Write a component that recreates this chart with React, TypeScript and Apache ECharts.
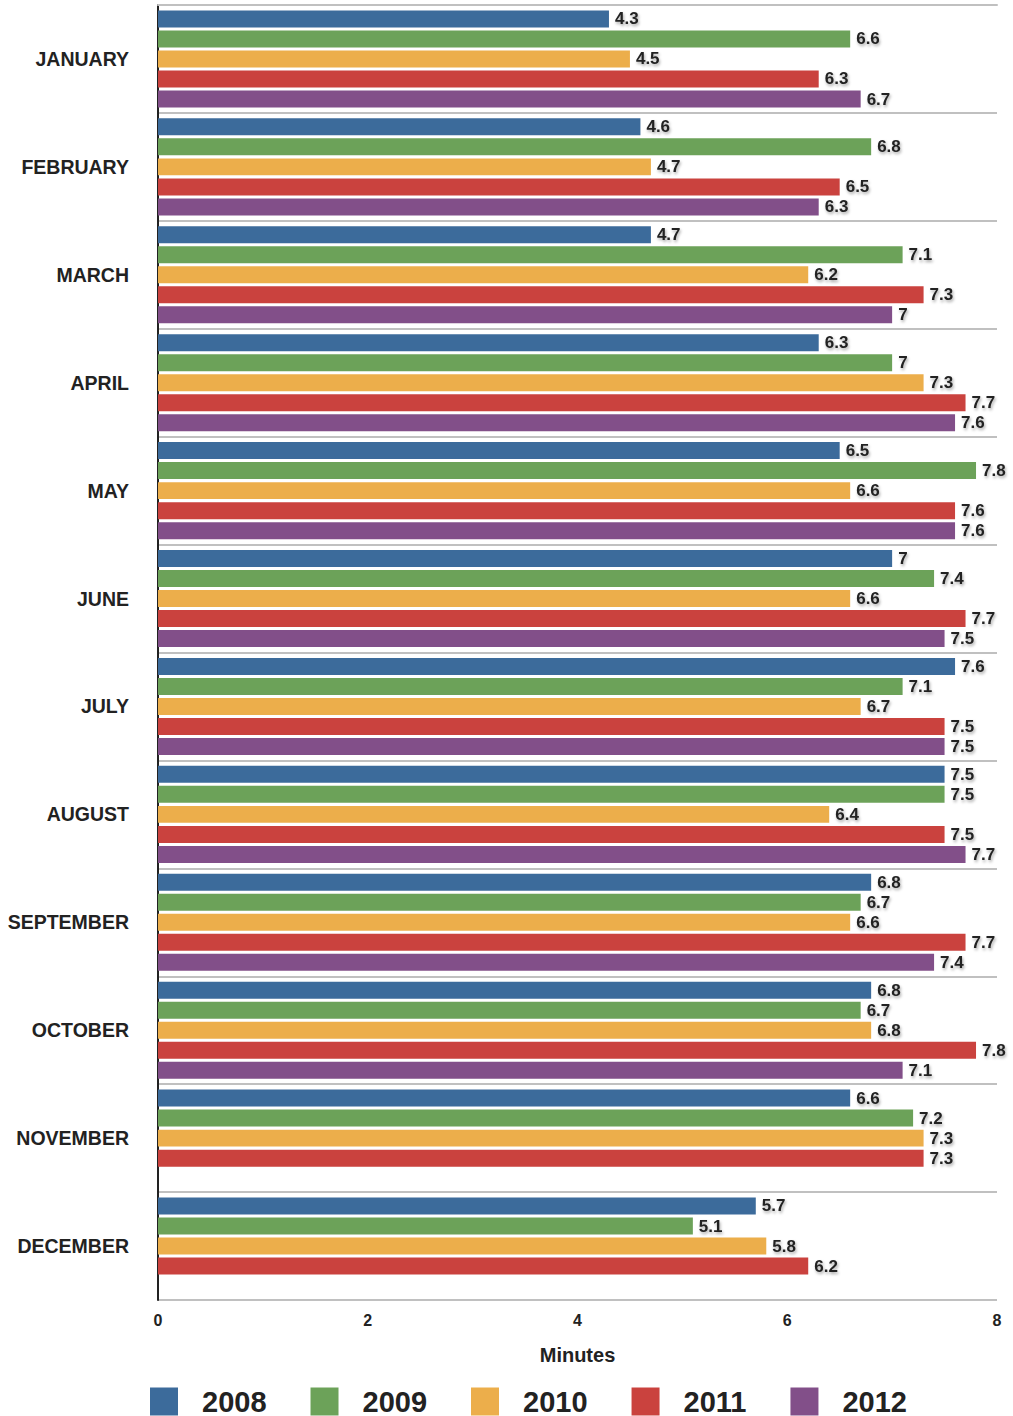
import React, { useEffect, useRef } from "react";
import * as echarts from "echarts";

const months = ["JANUARY","FEBRUARY","MARCH","APRIL","MAY","JUNE","JULY","AUGUST","SEPTEMBER","OCTOBER","NOVEMBER","DECEMBER"];
const years = ["2008","2009","2010","2011","2012"];
const s2008 = [4.3,4.6,4.7,6.3,6.5,7,7.6,7.5,6.8,6.8,6.6,5.7];
const s2009 = [6.6,6.8,7.1,7,7.8,7.4,7.1,7.5,6.7,6.7,7.2,5.1];
const s2010 = [4.5,4.7,6.2,7.3,6.6,6.6,6.7,6.4,6.6,6.8,7.3,5.8];
const s2011 = [6.3,6.5,7.3,7.7,7.6,7.7,7.5,7.5,7.7,7.8,7.3,6.2];
const s2012 = [6.7,6.3,7,7.6,7.6,7.5,7.5,7.7,7.4,7.1,null,null];
const xTicks = [0,2,4,6,8];
const colors = ["#3c6b9b","#6ca259","#ecae4b","#ca423e","#824f89"];

const FONT = "'Liberation Sans', Arial, sans-serif";

export default function App() {
  const ref = useRef<HTMLDivElement>(null);
  useEffect(() => {
    if (!ref.current) return;
    const chart = echarts.init(ref.current, undefined, { renderer: "svg" });
    const seriesData = [s2008, s2009, s2010, s2011, s2012];
    const xMin = xTicks[0];
    const xMax = xTicks[xTicks.length - 1];
    chart.setOption({
      animation: false,
      color: colors,
      grid: { left: 158, right: 16, top: 5, bottom: 116, containLabel: false },
      legend: {
        data: years,
        left: 150,
        top: 1387,
        padding: 0,
        itemWidth: 28,
        itemHeight: 28,
        itemGap: 44,
        icon: "rect",
        textStyle: {
          fontFamily: FONT,
          fontWeight: "bold",
          fontSize: 29,
          lineHeight: 28,
          color: "#222",
          padding: [0, 0, 0, 19],
        },
      },
      xAxis: [
        {
          type: "value",
          min: xMin,
          max: xMax,
          interval: 2,
          axisLine: { show: false },
          axisTick: { show: false },
          splitLine: { show: false },
          axisLabel: {
            margin: 12,
            fontFamily: FONT,
            fontWeight: "bold",
            fontSize: 16,
            color: "#222",
          },
          name: "Minutes",
          nameLocation: "middle",
          nameGap: 45,
          nameTextStyle: {
            fontFamily: FONT,
            fontWeight: "bold",
            fontSize: 20,
            color: "#222",
          },
        },
        {
          type: "value",
          position: "top",
          min: xMin,
          max: xMax,
          interval: 2,
          axisLine: { show: true, onZero: false, lineStyle: { color: "#c0c0c0", width: 2 } },
          axisTick: { show: false },
          splitLine: { show: false },
          axisLabel: { show: false },
        },
      ],
      yAxis: {
        type: "category",
        data: months,
        inverse: true,
        axisLine: { show: true, lineStyle: { color: "#222", width: 2 } },
        axisTick: { show: false },
        splitLine: { show: true, lineStyle: { color: "#c0c0c0", width: 2 } },
        axisLabel: {
          margin: 29,
          fontFamily: FONT,
          fontWeight: "bold",
          fontSize: 19.5,
          color: "#222",
        },
      },
      series: years.map((y, i) => ({
        name: y,
        type: "bar",
        data: seriesData[i],
        barGap: "18%",
        barCategoryGap: "10%",
        itemStyle: { color: colors[i] },
        label: {
          show: true,
          position: "right",
          distance: 6,
          fontFamily: FONT,
          fontWeight: "bold",
          fontSize: 17,
          color: "#222",
          textShadowColor: "rgba(0,0,0,0.35)",
          textShadowBlur: 3,
          textShadowOffsetX: 1,
          textShadowOffsetY: 2,
        },
      })),
    });
    return () => chart.dispose();
  }, []);
  return (
    <div
      ref={ref}
      style={{ position: "absolute", left: 0, top: 0, width: 1013, height: 1416 }}
    />
  );
}
